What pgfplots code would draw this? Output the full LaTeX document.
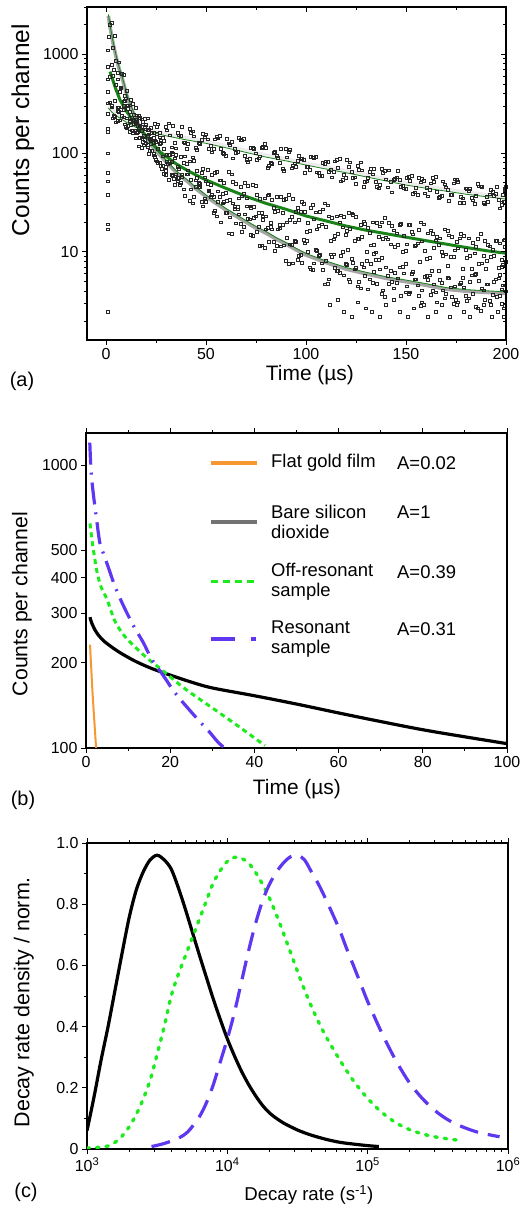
\documentclass[border=0pt]{standalone}
\usepackage{pgfplots}
\pgfplotsset{compat=1.18}
\usepackage{pgfplotstable}
\usepackage{fontspec}
\setmainfont{Liberation Sans}
\definecolor{fitgreen}{RGB}{25,130,25}
\definecolor{lightfit}{RGB}{236,236,236}
\definecolor{grayfit}{RGB}{165,165,165}
\definecolor{lgreen}{RGB}{30,235,30}
\definecolor{myviolet}{RGB}{95,55,240}
\definecolor{orng}{RGB}{248,150,50}
\pgfplotsset{every axis/.append style={scale only axis,
  /pgf/number format/assume math mode=true,
  tick label style={font=\fontsize{16}{18}\selectfont},
  axis line style={black, line width=1.1bp},
  every tick/.style={black, line width=0.9bp},
  major tick length=5bp, minor tick length=3bp},
  scat/.style={only marks, mark=square, mark size=1.35bp, black!85,
    mark options={solid, line width=0.5bp, draw=black!85, fill=none}}}

\pgfplotstableread{
t a b c u a2 b2 c2 v a3 b3 c3 w a4 b4 c4
2 328 588 1995 3.5 225 610 1170 4.25 235 336 1540 2.75 292 780 2070
5 205 493 855 6.5 262 292 828 7.25 275 452 465 5.75 214 288 647
8 239 237 638 9.5 196 336 383 10.25 179 225 429 8.75 273 334 622
11 189 305 280 12.5 244 194 348 13.25 214 318 159 11.75 165 214 304
14 244 197 216 15.5 160 209 242 16.25 179 117 238 14.75 219 287 141
17 143 228 189 18.5 206 130 130 19.25 221 186 137 17.75 168 114 220
20 194 126 174 21.5 155 173 98 22.25 137 125 180 20.75 226 151 121
23 161 135 106 24.5 199 92 135 25.25 185 157 83 23.75 142 100 127
26 196 80 110 27.5 128 133 74 28.25 143 74 93 26.75 162 145 125
29 134 111 62 30.5 170 82 96 31.25 200 97 54 29.75 184 73 60
32 152 79 96 33.5 188 98 59 34.25 128 48 89 32.75 115 102 82
35 112 97 61 36.5 152 56 69 37.25 151 92 50 35.75 161 73 56
38 184 58 60 39.5 128 93 37 40.25 110 61 78 38.75 129 43 80
41 124 67 61 42.5 160 54 43 43.25 166 91 31 41.75 176 83 33
44 148 84 36 45.5 109 66 56 46.25 128 46 50 44.75 113 53 46
47 125 49 45 48.5 158 69 29 49.25 145 57 35 47.75 136 63 32
50 155 52 32 51.5 110 41 42 52.25 118 36 48 50.75 138 68 49
53 102 60 38 54.5 138 63 26 55.25 146 65 23 53.75 111 36 25
56 141 41 32 57.5 111 53 20 58.25 101 39 31 56.75 149 53 36
59 98 50 32 60.5 140 33 25 61.25 126 65 15.5 59.75 94 40 25
62 122 34 22.5 63.5 89 51 31 64.25 110 27 29 62.75 131 61 15.2
65 101 49 19.5 66.5 143 35 24 67.25 136 46 19.4 65.75 103 27 28.8
68 135 36.5 16 69.5 94 50 24 70.25 85 35 29 68.75 139 39 18.1
71 82 47 21.5 72.5 113 28 15 73.25 114 48 14.6 71.75 88 29 21.4
74 111 28.5 22 75.5 85 38 16 76.25 89 25 17.9 74.75 100 46.5 22.9
77 93 34.5 11.6 78.5 116 23 21 79.25 125 35 11 77.75 114 25 11.7
80 114 23 17 81.5 75 38 12.7 82.25 80 18 19.7 80.75 71 37.5 17.5
83 78 34 17 84.5 104 25.5 10.3 85.25 94 36 11.5 83.75 101 27.8 12.6
86 89.5 26 17 87.5 110 36 11.4 88.25 69 25 18.8 86.75 80 17.4 18.9
89 66.5 34 11.7 90.5 91 20 14 91.25 103 38 7.6 89.75 110 34.6 8.2
92 109 21 12 93.5 75.5 34.7 7.7 94.25 79 20 13 92.75 70.5 22.8 11.9
95 73 25.6 12.6 96.5 94 21 9.1 97.25 89 25.4 9.4 95.75 84 27.8 8.4
98 87 32 7.8 99.5 63.5 25.5 12.2 100.25 73 16 13 98.75 85 30.7 13.2
101 73 19.7 10 102.5 92 28 6.7 103.25 91 30 6.6 101.75 68 16.3 7
104 90 21.4 7.7 105.5 64 17 10.2 106.25 63 18.3 9.1 104.75 92 25.2 10.5
107 59 25.3 9.4 108.5 80 27 6.6 109.25 78 31 4.7 107.75 59 19 7.7
110 83 18 8.2 111.5 65 23 5.3 112.25 68 13 9.5 110.75 81.5 29.6 4.8
113 57 22.3 9 114.5 83 14.6 6.9 115.25 86 23 6.5 113.75 64.6 13.4 9.5
116 71 15.2 6.4 117.5 52 23.5 9.1 118.25 54 17.8 10 116.75 88 20 6.2
119 60 22.6 5.8 120.5 85 16.4 7.4 121.25 73 25 5.3 119.75 56 15 7.6
122 81 17.2 5 123.5 56 23.8 7.8 124.25 57 13 6.7 122.75 64.4 24.6 8.5
125 49 22.6 6.9 126.5 68 13.7 5 127.25 81 18.7 4.3 125.75 74 13.5 4.5
128 67 14.2 7.6 129.5 51 19.2 5.7 130.25 52 10 8.1 128.75 46 20.5 7
131 56.4 17.5 4.2 132.5 70 11.7 7.6 133.25 61 20 4.9 131.75 65 15.6 5.3
134 69 11.9 6.3 135.5 45.5 19.9 4.8 136.25 44 14.2 8.4 134.75 51.6 9.9 8.3
137 47.6 18.2 6.7 138.5 63.5 13.6 4.1 139.25 66 22.3 3.5 137.75 70 20 3.8
140 54.5 14.1 7 141.5 67 19.6 4.8 142.25 51 12 6.4 140.75 45 13.4 5.7
143 40.3 18.5 5 144.5 54.8 11.2 6.2 145.25 57 15.4 4.9 143.75 53.7 16.6 4.3
146 65.8 11.8 5.4 147.5 45.6 19.4 3.6 148.25 46.5 10 7.1 146.75 54 18.9 7
149 44 14.5 6.1 150.5 56.7 12 4.5 151.25 58 18.9 3.75 149.75 43.6 10.2 3.9
152 52.6 18.8 3.9 153.5 38.6 15.1 6.3 154.25 40.3 11.6 5.3 152.75 59 15.9 6
155 44.4 11.7 5.3 156.5 56.6 16.8 3.6 157.25 50.8 20 2.85 155.75 38 12.2 4.6
158 55 12.8 4.1 159.5 39.3 10.2 5.6 160.25 44.6 8.5 5.75 158.75 52.9 19 2.9
161 36.6 15.4 5.2 162.5 49.7 16.6 3.7 163.25 56 15.2 4.05 161.75 42.3 8.7 5.8
164 51.4 11.1 4.7 165.5 40.8 14.3 3.1 166.25 35.2 11.8 6.4 164.75 57.9 13.1 3.9
167 35.9 13.8 5.2 168.5 52 9.1 4.1 169.25 48.4 17 3.4 167.75 37 10 4.9
170 45.2 9.5 3.8 171.5 33.2 14.8 5.4 172.25 38.2 8.9 4.4 170.75 42.8 16.4 5.5
173 37.9 14.3 3.5 174.5 54.2 10.4 4.5 175.25 54 12.7 2.9 173.75 49.4 9 3
176 51.6 10.9 3.1 177.5 35.9 15.2 4.9 178.25 35 6.75 5.5 176.75 31.2 13.8 4.7
179 31.4 14.6 4.4 180.5 43.9 8.8 3.2 181.25 41.5 13.8 3.4 179.75 44.1 10.5 3.6
182 43.6 9.2 5 183.5 33.3 12.4 3.8 184.25 30.6 9.7 5.9 182.75 35.5 6.8 5.8
185 37 11.3 2.8 186.5 46.3 7.6 5.1 187.25 46.2 15.3 2.55 185.75 48.8 13.6 2.7
188 45.8 7.7 4.3 189.5 30.3 12.9 3.3 190.25 35.9 8.2 4.7 188.75 31.6 9.2 4.1
191 32 11.9 4.7 192.5 42.9 8.9 2.9 193.25 40.9 10.6 3.7 191.75 38.3 11.4 3.2
194 37 9.2 5 195.5 45.9 12.9 3.5 196.25 33.7 6.9 5.4 194.75 39 13 5.3
197 27.6 12.2 3.6 198.5 37.8 7.4 4.6 199.25 42.2 13.2 2.85 197.75 31.8 7.1 3
200 45.7 7.9 4 199 32 13.1 2.7 198 30.2 8.3 4.2 199.5 43.7 11.2 4.6
}\dataA

\begin{document}
\begin{tikzpicture}
\useasboundingbox (0,0) rectangle (522bp,1209bp);

% ---------------- panel (a)
\begin{axis}[at={(87bp,869bp)}, anchor=south west, width=419bp, height=333bp,
  xmin=-9.5, xmax=200, ymode=log, ymin=1.285, ymax=3010,
  xtick={0,50,100,150,200}, xticklabels={0,50,100,150,200}, minor xtick={25,75,125,175},
  ytick={10,100,1000}, yticklabels={10,100,1000},
  minor ytick={2,3,4,5,6,7,8,9,20,30,40,50,60,70,80,90,200,300,400,500,600,700,800,900,2000,3000},
  tick align=outside, xtick pos=left, ytick pos=left,
  xlabel={Time (µs)}, ylabel={Counts per channel},
  xlabel style={font=\fontsize{21}{24}\selectfont, at={(axis description cs:0.532,-0.105)}, anchor=center},
  ylabel style={font=\fontsize{24.5}{28}\selectfont, at={(axis description cs:-0.153,0.63)}, anchor=center}]
\addplot[scat] table[x=t,y=a] {\dataA};
\addplot[scat] table[x=t,y=b] {\dataA};
\addplot[scat] table[x=t,y=c] {\dataA};
\addplot[scat] table[x=u,y=a2] {\dataA};
\addplot[scat] table[x=u,y=b2] {\dataA};
\addplot[scat] table[x=u,y=c2] {\dataA};
\addplot[scat] table[x=v,y=a3] {\dataA};
\addplot[scat] table[x=v,y=b3] {\dataA};
\addplot[scat] table[x=v,y=c3] {\dataA};
\addplot[scat] table[x=w,y=a4] {\dataA};
\addplot[scat] table[x=w,y=b4] {\dataA};
\addplot[scat] table[x=w,y=c4] {\dataA};
\addplot[scat] coordinates {(112,2.9)(116,3.3)(119,2.5)(123,2.2)(126,3.1)(130,2.7)(133,2.5)(137,2.2)(140,2.9)(144,3.3)(147,2.5)(151,2.2)(154,2.7)(158,3.1)(161,2.2)(165,2.5)(168,2.9)(172,2.2)(175,3.3)(179,2.5)(182,2.2)(186,2.7)(189,2.9)(193,2.2)(196,2.5)(199,2.2)(121,10.5)(138,8.8)(157,8)(171,7.2)(190,6.8)(134,9.6)(150,7.6)(185,6)(163,6.5)(197,5.9)};
\addplot[scat] coordinates {(1,2.5)(1,17)(1,19)(1,38)(1,52)(1,63)(1,100)(1,165)(1,175)(1,250)(1,320)(1,420)(1,560)(1,750)(1,1100)(1.3,1500)};
\addplot[scat] coordinates {(3,300)(4,240)(6,270)(7,215)(9,230)(10,185)(12,210)(13,170)(15,200)(16,165)(18,185)(19,150)(21,170)(22,140)(24,160)(25,130)(4,700)(6,560)(7,420)(9,300)(10,360)(12,260)(13,230)(15,170)(16,190)(18,145)(19,120)(21,115)(22,105)(24,95)(25,85)(27,80)(28,70)(30,66)(31,78)(33,60)(34,55)(36,52)(37,48)};
\addplot[lightfit, line width=4bp, no marks] coordinates {(1.2,298)(3,270)(5,250)(8,228)(10,215)(15,190)(20,176)(25,165)(30,156)(40,142)(50,131)(60,118)(70,106)(80,95)(90,87)(100,79)(110,72)(120,66)(130,60)(140,54.5)(150,49.5)(160,46)(170,43)(180,40)(190,37.8)(200,35.7)};
\addplot[fitgreen, line width=0.8bp, no marks, yshift=-1.8bp] coordinates {(1.2,298)(3,270)(5,250)(8,228)(10,215)(15,190)(20,176)(25,165)(30,156)(40,142)(50,131)(60,118)(70,106)(80,95)(90,87)(100,79)(110,72)(120,66)(130,60)(140,54.5)(150,49.5)(160,46)(170,43)(180,40)(190,37.8)(200,35.7)};
\addplot[grayfit, line width=3.6bp, no marks] coordinates {(1.2,2445)(2,1900)(3.5,1300)(5,950)(6.5,720)(8,580)(9.5,450)(11,350)(12.5,290)(14,245)(17,180)(20,145)(23,118)(26,100)(29,86)(32,74)(35,64)(38,57)(41,51)(44,45)(47,40.5)(50,36.3)(55,31)(60,26.5)(65,23)(70,20)(75,17.4)(80,15.5)(85,13.5)(90,12)(95,10.5)(100,9.3)(110,7.8)(120,6.7)(130,6.0)(140,5.4)(150,5.0)(160,4.6)(170,4.2)(180,4.0)(190,3.9)(200,3.8)};
\addplot[fitgreen, line width=0.8bp, no marks, yshift=1.6bp] coordinates {(1.2,2445)(2,1900)(3.5,1300)(5,950)(6.5,720)(8,580)(9.5,450)(11,350)(12.5,290)(14,245)(17,180)(20,145)(23,118)(26,100)(29,86)(32,74)(35,64)(38,57)(41,51)(44,45)(47,40.5)(50,36.3)(55,31)(60,26.5)(65,23)(70,20)(75,17.4)(80,15.5)(85,13.5)(90,12)(95,10.5)(100,9.3)(110,7.8)(120,6.7)(130,6.0)(140,5.4)(150,5.0)(160,4.6)(170,4.2)(180,4.0)(190,3.9)(200,3.8)};
\addplot[fitgreen, line width=3bp, no marks] coordinates {(2,668)(3,580)(5,440)(7,345)(10,270)(14,205)(17,175)(20,150)(23,127)(27,103)(30,93)(35,78)(40,68)(45,60)(50,53.5)(60,44)(70,36.5)(80,31)(90,27)(100,23.1)(110,20.6)(120,18.3)(130,16.6)(140,15.3)(150,14.1)(160,13)(170,12)(180,11.1)(190,10.3)(200,9.7)};
\end{axis}
\begin{axis}[at={(87bp,869bp)}, anchor=south west, width=419bp, height=333bp,
  xmin=-9.5, xmax=200, ymode=log, ymin=1.285, ymax=3010,
  xtick={0,50,100,150,200}, minor xtick={25,75,125,175},
  ytick={10,100,1000},
  minor ytick={2,3,4,5,6,7,8,9,20,30,40,50,60,70,80,90,200,300,400,500,600,700,800,900,2000,3000},
  tick align=inside, xtick pos=right, ytick pos=right,
  xticklabels={}, yticklabels={}]
\addplot[draw=none] coordinates {(0,10)};
\end{axis}
\node[font=\fontsize{20}{24}\selectfont] at (22bp,828bp) {(a)};

% ---------------- panel (b)
\begin{axis}[at={(86bp,461bp)}, anchor=south west, width=421bp, height=315bp,
  xmin=0, xmax=100, ymode=log, ymin=100, ymax=1298,
  xtick={0,20,40,60,80,100}, xticklabels={0,20,40,60,80,100}, minor xtick={10,30,50,70,90},
  ytick={100,200,300,400,500,1000}, yticklabels={100,200,300,400,500,1000}, minor ytick={},
  tick align=outside, xtick pos=both, ytick pos=left,
  xlabel={Time (µs)}, ylabel={Counts per channel},
  xlabel style={font=\fontsize{21}{24}\selectfont, at={(axis description cs:0.501,-0.130)}, anchor=center},
  ylabel style={font=\fontsize{21.3}{24}\selectfont, at={(axis description cs:-0.152,0.457)}, anchor=center}]
\addplot[orng, line width=2bp] coordinates {(0.95,232)(1.6,152)(2.4,100)};
\addplot[black, line width=3.2bp, smooth] coordinates {(0.95,290)(1.3,278)(2.1,262)(3,250)(4.5,237)(7.7,219)(11.6,203)(15.6,191)(20,181)(25,171)(30,163)(40,153)(50,143)(60,133)(70,124)(80,116)(90,109.5)(100,103.6)};
\addplot[lgreen, line width=3bp, dash pattern=on 5bp off 4bp, smooth] coordinates {(0.95,622)(1.6,520)(2.6,420)(3.6,370)(5,335)(6.9,280)(9.3,247)(12.4,222)(15,205)(18,189)(23.5,162)(31.4,134)(37,117)(42.5,102)};
\addplot[myviolet, line width=3.2bp, dash pattern=on 22bp off 8bp on 2bp off 8bp, smooth] coordinates {(0.9,1200)(1.2,950)(1.7,800)(2.5,645)(3.3,530)(4.3,480)(5.3,435)(6.9,372)(8.9,318)(11.3,270)(13.6,236)(15.6,206)(18.4,180)(20.7,160)(23,145)(26.6,126)(29.3,114)(31.6,104)(34.5,96)};
\end{axis}
% legend of panel (b)
\begin{scope}[every node/.style={anchor=west, inner sep=0pt, font=\fontsize{18.5}{20}\selectfont}]
\draw[orng, line width=3.5bp] (211bp,746bp) -- (257bp,746bp);
\node at (271bp,746bp) {Flat gold film};
\node at (397bp,746bp) {A=0.02};
\draw[black!55, line width=3.2bp] (211bp,687bp) -- (257bp,687bp);
\node at (271bp,687bp) {\parbox{125bp}{Bare silicon\\dioxide}};
\node at (397bp,697bp) {A=1};
\draw[lgreen, line width=3bp, dash pattern=on 7bp off 5bp] (211bp,627bp) -- (257bp,627bp);
\node at (271bp,627bp) {\parbox{125bp}{Off-resonant\\sample}};
\node at (397bp,637bp) {A=0.39};
\draw[myviolet, line width=3.2bp, dash pattern=on 24bp off 16bp on 5bp off 10bp] (211bp,570bp) -- (257bp,570bp);
\node at (271bp,570bp) {\parbox{125bp}{Resonant\\sample}};
\node at (397bp,580bp) {A=0.31};
\end{scope}
\node[font=\fontsize{20}{24}\selectfont] at (23bp,409bp) {(b)};

% ---------------- panel (c)
\begin{axis}[at={(87bp,60bp)}, anchor=south west, width=421bp, height=306bp,
  xmode=log, xmin=1000, xmax=1000000, ymin=0, ymax=1,
  xtick={1000,10000,100000,1000000},
  xticklabels={10\textsuperscript{3},10\textsuperscript{4},10\textsuperscript{5},10\textsuperscript{6}},
  minor xtick={2000,3000,4000,5000,6000,7000,8000,9000,20000,30000,40000,50000,60000,70000,80000,90000,200000,300000,400000,500000,600000,700000,800000,900000},
  ytick={0,0.2,0.4,0.6,0.8,1.0}, yticklabels={0,0.2,0.4,0.6,0.8,1.0}, minor ytick={0.1,0.3,0.5,0.7,0.9},
  tick align=outside, xtick pos=both, ytick pos=left,
  xlabel={Decay rate (s\textsuperscript{-1})}, ylabel={Decay rate density / norm.},
  xlabel style={font=\fontsize{18.7}{22}\selectfont, at={(axis description cs:0.527,-0.150)}, anchor=center},
  ylabel style={font=\fontsize{21.5}{24}\selectfont, at={(axis description cs:-0.150,0.48)}, anchor=center}]
\addplot[black, line width=3.2bp, smooth] coordinates {(1000,0.06)(1122,0.17)(1259,0.29)(1413,0.40)(1585,0.52)(1778,0.64)(1995,0.755)(2239,0.845)(2512,0.905)(2818,0.945)(3162,0.96)(3548,0.945)(3981,0.915)(4467,0.855)(5012,0.785)(5623,0.71)(6310,0.635)(7079,0.562)(7943,0.49)(8913,0.423)(10000,0.36)(11220,0.305)(12589,0.255)(14125,0.212)(15849,0.175)(17783,0.143)(19953,0.118)(22387,0.1)(25119,0.085)(28184,0.073)(31623,0.062)(35481,0.053)(39811,0.045)(50119,0.032)(63096,0.022)(79433,0.016)(100000,0.011)(120226,0.008)};
\addplot[lgreen, line width=3.4bp, dash pattern=on 2.5bp off 7bp, line cap=round, smooth] coordinates {(1000,0.003)(1259,0.006)(1413,0.01)(1585,0.022)(1778,0.042)(1995,0.072)(2239,0.112)(2512,0.163)(2818,0.225)(3162,0.31)(3548,0.40)(3981,0.50)(4467,0.57)(5012,0.63)(5623,0.69)(6310,0.75)(7079,0.81)(7943,0.87)(8913,0.91)(10000,0.94)(11220,0.953)(12589,0.95)(14125,0.935)(15849,0.905)(17783,0.866)(19953,0.82)(22387,0.765)(25119,0.705)(28184,0.643)(31623,0.58)(35481,0.52)(39811,0.465)(44668,0.415)(50119,0.37)(56234,0.33)(63096,0.292)(70795,0.256)(79433,0.222)(100000,0.165)(125893,0.12)(158489,0.086)(199526,0.063)(251189,0.048)(316228,0.038)(436516,0.029)};
\addplot[myviolet, line width=3.2bp, dash pattern=on 19bp off 10bp, smooth] coordinates {(2884,0.008)(3548,0.018)(4467,0.035)(5248,0.057)(6310,0.105)(7079,0.15)(7943,0.21)(8913,0.285)(10000,0.36)(11220,0.445)(12589,0.545)(14125,0.645)(15849,0.735)(17783,0.81)(19953,0.865)(22387,0.905)(25119,0.935)(28184,0.955)(31623,0.96)(35481,0.945)(39811,0.905)(44668,0.865)(50119,0.818)(56234,0.768)(63096,0.716)(70795,0.655)(79433,0.598)(89125,0.54)(100000,0.482)(125893,0.38)(158489,0.29)(199526,0.215)(251189,0.16)(316228,0.118)(398107,0.088)(501187,0.068)(630957,0.053)(870964,0.040)};
\end{axis}
\node[font=\fontsize{20}{24}\selectfont] at (26bp,17bp) {(c)};
\end{tikzpicture}
\end{document}
